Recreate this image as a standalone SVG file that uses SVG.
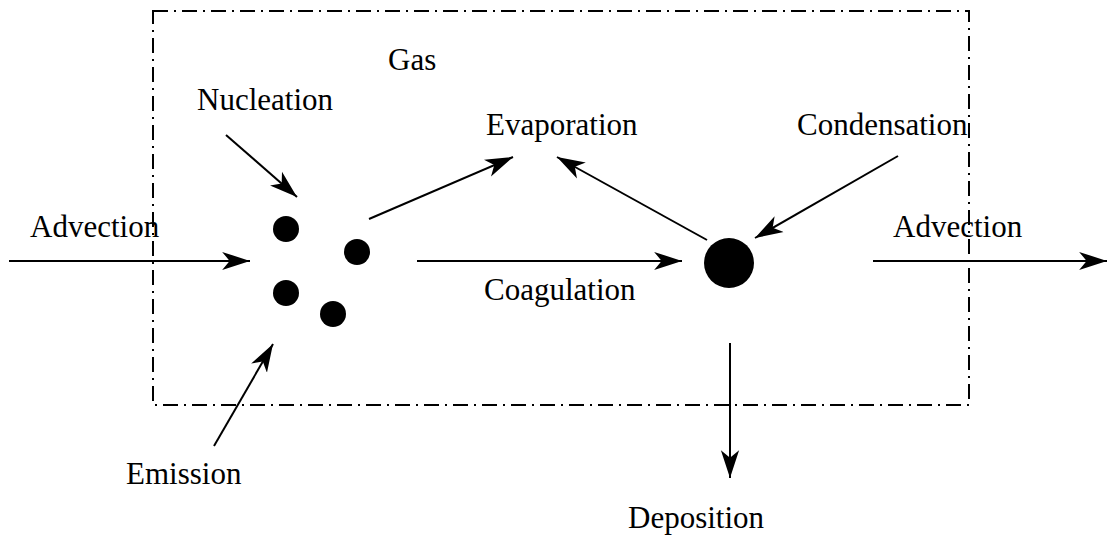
<svg xmlns="http://www.w3.org/2000/svg" width="1108" height="535" viewBox="0 0 1108 535">
<style>
text{font-size:31px;fill:#000}
.c{stroke:#000;stroke-width:2;fill:none}
.p{fill:#000}
</style>
<defs>
<marker id="ah" markerUnits="userSpaceOnUse" markerWidth="30" markerHeight="20" viewBox="-26 -9 28 18" refX="0" refY="0" orient="auto">
<path d="M0,0 L-26,-8.5 L-19,0 L-26,8.5 Z" fill="#000"/>
</marker>
</defs>
<rect width="1108" height="535" fill="#fff"/>
<rect id="gas-box" x="153" y="11" width="816" height="394" fill="none" stroke="#000" stroke-width="2" stroke-dasharray="15,6,2,6"/>
<g font-family="Liberation Serif, Times New Roman, DejaVu Serif, serif">
<g id="gas"><text x="388" y="70">Gas</text></g>
<g id="labels">
<text x="197" y="110">Nucleation</text>
<text x="486" y="135">Evaporation</text>
<text x="797" y="135">Condensation</text>
<text x="30" y="237">Advection</text>
<text x="893" y="237">Advection</text>
<text x="484" y="300">Coagulation</text>
<text x="126" y="484">Emission</text>
<text x="628" y="528">Deposition</text>
</g>
</g>
<g id="particles">
<circle class="p" cx="286" cy="229" r="13"/>
<circle class="p" cx="357" cy="252" r="13"/>
<circle class="p" cx="286" cy="293" r="13"/>
<circle class="p" cx="333" cy="314" r="13"/>
</g>
<g id="big-particle"><circle class="p" cx="729" cy="263" r="25"/></g>
<g id="connectors">
<line class="c" x1="9" y1="261" x2="250" y2="261" marker-end="url(#ah)"/>
<line class="c" x1="226" y1="135" x2="297" y2="197" marker-end="url(#ah)"/>
<line class="c" x1="214" y1="446" x2="273" y2="344" marker-end="url(#ah)"/>
<line class="c" x1="369" y1="219" x2="513" y2="157" marker-end="url(#ah)"/>
<line class="c" x1="707" y1="240" x2="557" y2="157" marker-end="url(#ah)"/>
<line class="c" x1="898" y1="156" x2="755" y2="238" marker-end="url(#ah)"/>
<line class="c" x1="417" y1="261" x2="682" y2="261" marker-end="url(#ah)"/>
<line class="c" x1="873" y1="261" x2="1107" y2="261" marker-end="url(#ah)"/>
<line class="c" x1="730" y1="343" x2="730" y2="478" marker-end="url(#ah)"/>
</g>
</svg>
